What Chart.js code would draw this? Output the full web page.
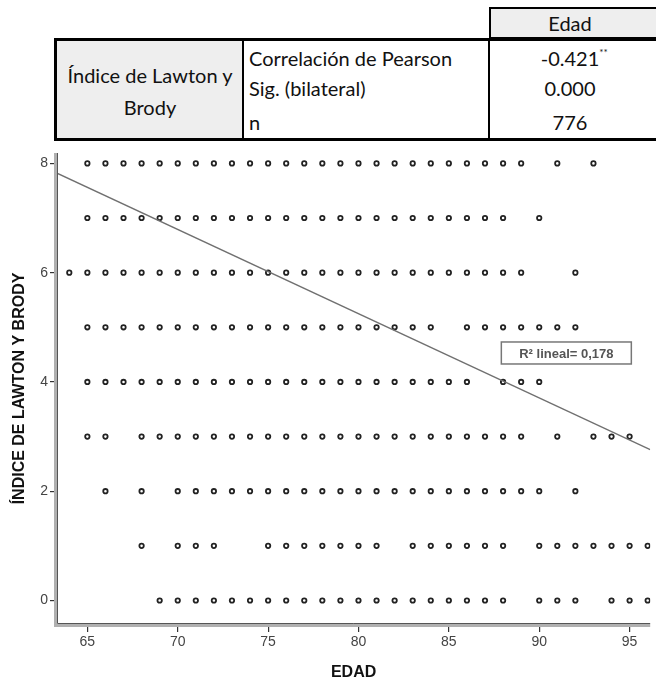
<!DOCTYPE html>
<html>
<head>
    <title>Índice de Lawton y Brody según edad</title>
    <meta charset="UTF-8">
    <script src="https://cdn.jsdelivr.net/npm/chart.js"></script>
    <style>
        body {
            margin: 0;
            width: 656px;
            height: 682px;
            background: white;
            position: relative;
            overflow: hidden;
            font-family: Lato, "Open Sans", sans-serif;
        }
        .cell {
            position: absolute;
            box-sizing: border-box;
        }
        .txt {
            position: absolute;
            font-size: 20px;
            color: #111;
            line-height: 22px;
            white-space: nowrap;
        }
        #grafico {
            position: absolute;
            left: 0;
            top: 140px;
        }
    </style>
</head>
<body>
    <!-- Tabla de correlación -->
    <div class="cell" style="left:489px; top:7px; width:180px; height:31px; background:#eeeeee; border-left:2px solid #000; border-top:2px solid #000; border-bottom:1px solid #000;"></div>
    <div class="cell" style="left:54px; top:38px; width:620px; height:103px; border:3px solid #000;"></div>
    <div class="cell" style="left:57px; top:41px; width:187px; height:97px; background:#eeeeee; border-right:2px solid #000;"></div>
    <div class="cell" style="left:488px; top:41px; width:2px; height:97px; background:#000;"></div>

    <div class="txt" style="left:489px; width:162px; top:12px; text-align:center;">Edad</div>
    <div class="txt" style="left:57px; width:186px; top:64px; text-align:center;">Índice de Lawton y</div>
    <div class="txt" style="left:57px; width:186px; top:96px; text-align:center;">Brody</div>
    <div class="txt" style="left:249px; top:47px;">Correlación de Pearson</div>
    <div class="txt" style="left:249px; top:77px;">Sig. (bilateral)</div>
    <div class="txt" style="left:249px; top:111px;">n</div>
    <div class="txt" style="left:489px; width:162px; top:47px; text-align:center;">-0.421<sup style="font-size:10px; position:absolute; margin-top:-6px;">**</sup></div>
    <div class="txt" style="left:489px; width:162px; top:77px; text-align:center;">0.000</div>
    <div class="txt" style="left:489px; width:162px; top:111px; text-align:center;">776</div>

    <canvas id="grafico" width="656" height="542"></canvas>

    <script>
        // Edades observadas para cada puntuación del índice (0 a 8)
        const edadesPuntuacion8 = [65, 66, 67, 68, 69, 70, 71, 72, 73, 74, 75, 76, 77, 78, 79, 80, 81, 82, 83, 84, 85, 86, 87, 88, 89, 91, 93];
        const edadesPuntuacion7 = [65, 66, 67, 68, 69, 70, 71, 72, 73, 74, 75, 76, 77, 78, 79, 80, 81, 82, 83, 84, 85, 86, 87, 88, 90];
        const edadesPuntuacion6 = [64, 65, 66, 67, 68, 69, 70, 71, 72, 73, 74, 75, 76, 77, 78, 79, 80, 81, 82, 83, 84, 85, 86, 87, 88, 89, 92];
        const edadesPuntuacion5 = [65, 66, 67, 68, 69, 70, 71, 72, 73, 74, 75, 76, 77, 78, 79, 80, 81, 82, 83, 84, 86, 87, 88, 89, 90, 91, 92];
        const edadesPuntuacion4 = [65, 66, 67, 68, 69, 70, 71, 72, 73, 74, 75, 76, 77, 78, 79, 80, 81, 82, 83, 84, 85, 86, 88, 89, 90];
        const edadesPuntuacion3 = [65, 66, 68, 69, 70, 71, 72, 73, 74, 75, 76, 77, 78, 79, 80, 81, 82, 83, 84, 85, 86, 87, 88, 89, 91, 93, 94, 95];
        const edadesPuntuacion2 = [66, 68, 70, 71, 72, 73, 74, 75, 76, 77, 78, 79, 80, 81, 82, 83, 84, 85, 86, 87, 88, 89, 90, 92];
        const edadesPuntuacion1 = [68, 70, 71, 72, 75, 76, 77, 78, 79, 80, 81, 83, 84, 85, 86, 87, 88, 90, 91, 92, 93, 94, 95, 96];
        const edadesPuntuacion0 = [69, 70, 71, 72, 73, 74, 75, 76, 77, 78, 79, 80, 81, 82, 83, 84, 85, 86, 87, 88, 90, 91, 92, 94, 95, 96];

        const puntuaciones = [0, 1, 2, 3, 4, 5, 6, 7, 8];
        const edadesPorPuntuacion = [edadesPuntuacion0, edadesPuntuacion1, edadesPuntuacion2, edadesPuntuacion3,
            edadesPuntuacion4, edadesPuntuacion5, edadesPuntuacion6, edadesPuntuacion7, edadesPuntuacion8];

        // Recta de regresión lineal y su R²
        const pendiente = -0.1542;
        const intercepto = 17.585;
        const r2Lineal = '0,178';

        // Rango de los ejes y marcas
        const ejeXMin = 63.32, ejeXMax = 96.14;
        const ejeYMin = -0.43, ejeYMax = 8.19;
        const marcasX = [65, 70, 75, 80, 85, 90, 95];
        const marcasY = [0, 2, 4, 6, 8];

        // Puntos del diagrama de dispersión
        const puntos = [];
        puntuaciones.forEach((p, i) => {
            edadesPorPuntuacion[i].forEach(edad => puntos.push({ x: edad, y: p }));
        });

        const recta = [ejeXMin, ejeXMax].map(x => ({ x: x, y: intercepto + pendiente * x }));

        const fuenteEjes = '"Liberation Sans", Arial, sans-serif';

        // Ejes con doble línea al estilo SPSS y etiqueta del R²
        const marcoEjes = {
            id: 'marcoEjes',
            afterDatasetsDraw(chart) {
                const { ctx, chartArea, scales } = chart;
                ctx.save();
                ctx.strokeStyle = '#b0b0b0';
                ctx.lineWidth = 3;
                ctx.beginPath();
                ctx.moveTo(chartArea.left - 1.5, chartArea.top);
                ctx.lineTo(chartArea.left - 1.5, chartArea.bottom + 1.5);
                ctx.lineTo(chartArea.right, chartArea.bottom + 1.5);
                ctx.stroke();
                ctx.strokeStyle = '#555';
                ctx.lineWidth = 1;
                ctx.beginPath();
                ctx.moveTo(chartArea.left + 0.5, chartArea.top);
                ctx.lineTo(chartArea.left + 0.5, chartArea.bottom - 0.5);
                ctx.lineTo(chartArea.right, chartArea.bottom - 0.5);
                ctx.stroke();

                // Cuadro del R² lineal
                const cx = scales.x.getPixelForValue(91.5);
                const cy = scales.y.getPixelForValue(4.53);
                ctx.fillStyle = '#fff';
                ctx.fillRect(cx - 65, cy - 11, 130, 22);
                ctx.strokeStyle = '#777';
                ctx.lineWidth = 1.5;
                ctx.strokeRect(cx - 65, cy - 11, 130, 22);
                ctx.fillStyle = '#555';
                ctx.font = 'bold 13px ' + fuenteEjes;
                ctx.textAlign = 'center';
                ctx.textBaseline = 'middle';
                ctx.fillText('R² lineal= ' + r2Lineal, cx, cy + 1);
                ctx.restore();
            }
        };

        new Chart(document.getElementById('grafico'), {
            type: 'scatter',
            data: {
                datasets: [
                    {
                        label: 'Índice de Lawton y Brody',
                        data: puntos,
                        pointRadius: 2.2,
                        pointBorderWidth: 1.8,
                        pointBorderColor: '#222222',
                        pointBackgroundColor: '#ffffff',
                        order: 2
                    },
                    {
                        type: 'line',
                        label: 'Lineal',
                        data: recta,
                        borderColor: '#707070',
                        borderWidth: 1.3,
                        pointRadius: 0,
                        order: 1
                    }
                ]
            },
            options: {
                responsive: false,
                animation: false,
                layout: { padding: { top: 13, right: 0, bottom: 0, left: 0 } },
                plugins: {
                    legend: { display: false },
                    tooltip: { enabled: false }
                },
                scales: {
                    x: {
                        type: 'linear',
                        min: ejeXMin,
                        max: ejeXMax,
                        afterBuildTicks: s => { s.ticks = marcasX.map(v => ({ value: v })); },
                        afterFit: s => { s.height = 58; },
                        border: { display: false },
                        grid: {
                            drawOnChartArea: false,
                            drawTicks: true,
                            tickLength: 8,
                            color: '#333',
                            lineWidth: 1.2
                        },
                        ticks: {
                            color: '#444',
                            padding: 2,
                            font: { family: fuenteEjes, size: 14 },
                            maxRotation: 0
                        },
                        title: {
                            display: true,
                            text: 'EDAD',
                            color: '#111',
                            padding: { top: 5, bottom: 0 },
                            font: { family: fuenteEjes, size: 16, weight: 'bold' }
                        }
                    },
                    y: {
                        type: 'linear',
                        min: ejeYMin,
                        max: ejeYMax,
                        afterBuildTicks: s => { s.ticks = marcasY.map(v => ({ value: v })); },
                        afterFit: s => { s.width = 57; },
                        border: { display: false },
                        grid: {
                            drawOnChartArea: false,
                            drawTicks: true,
                            tickLength: 7,
                            color: '#333',
                            lineWidth: 1.2
                        },
                        ticks: {
                            color: '#444',
                            padding: 2,
                            font: { family: fuenteEjes, size: 14 }
                        },
                        title: {
                            display: true,
                            text: 'ÍNDICE DE LAWTON Y BRODY',
                            color: '#111',
                            padding: { top: 10, bottom: 0 },
                            font: { family: fuenteEjes, size: 16, weight: 'bold' }
                        }
                    }
                }
            },
            plugins: [marcoEjes]
        });
    </script>
</body>
</html>
